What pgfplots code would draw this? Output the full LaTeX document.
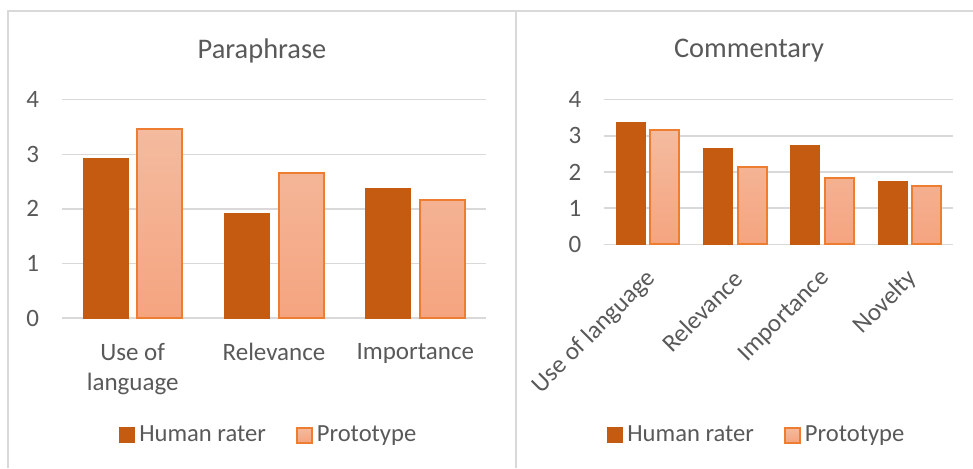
\documentclass[border=0pt]{standalone}
\usepackage{pgfplots}
\pgfplotsset{compat=1.18}
\usepackage{fontspec}
\setmainfont{Carlito}
\definecolor{human}{HTML}{C55A11}
\definecolor{protoedge}{HTML}{ED7D31}
\definecolor{prototop}{HTML}{F4BB9F}
\definecolor{protobot}{HTML}{F5A47F}
\definecolor{txt}{HTML}{595959}
\definecolor{gridc}{HTML}{D9D9D9}
\pgfplotsset{
  panel/.style={
    scale only axis, ybar, ymin=0, ymax=4, ytick={0,1,2,3,4},
    enlargelimits=false,
    ymajorgrids, grid style={gridc, line width=0.75pt},
    axis line style={draw=none}, tick style={draw=none},
    xtick=data,
    font=\fontsize{12.5}{15}\selectfont,
    tick label style={text=txt},
    /pgf/number format/assume math mode=true,
    yticklabel style={xshift=-8pt},
    title style={font=\fontsize{14.2}{16}\selectfont, text=txt, anchor=center},
    legend style={draw=none, fill=none, anchor=center, legend columns=2,
      font=\fontsize{12.3}{15}\selectfont, text=txt,
      /tikz/every even column/.append style={column sep=13pt}},
    legend cell align=left,
  },
  human/.style={fill=human, draw=human, line width=0.5pt,
    legend image code/.code={\draw[fill=human, draw=human] (0pt,-3.75pt) rectangle (7.5pt,3.75pt);}},
  proto/.style={top color=prototop, bottom color=protobot, draw=protoedge, line width=1pt,
    legend image code/.code={\draw[top color=prototop, bottom color=protobot, draw=protoedge, line width=1pt] (0pt,-3.75pt) rectangle (7.5pt,3.75pt);}},
}
\begin{document}
\begin{tikzpicture}
\useasboundingbox (0,0) rectangle (486.5pt,234pt);
\draw[gridc, line width=0.75pt] (4pt,0) -- (4pt,228.5pt) -- (486.5pt,228.5pt);
\draw[gridc, line width=1pt] (257.75pt,0) -- (257.75pt,228.5pt);

\begin{axis}[panel,
  at={(31pt,75pt)}, anchor=south west,
  width=212pt, height=109.15pt,
  xmin=-0.5, xmax=2.5,
  bar width=22.5pt, ybar=4.5pt,
  xticklabels={{Use of\\language},Relevance,Importance},
  xticklabel style={align=center, yshift=-5pt},
  title={Paraphrase}, title style={at={(0.4717,1.168)}},
  legend style={at={(0.49,-0.536)}},
]
\addplot[human] coordinates {(0,2.92) (1,1.91) (2,2.38)};
\addplot[proto] coordinates {(0,3.47) (1,2.65) (2,2.17)};
\legend{Human rater, Prototype}
\end{axis}

\begin{axis}[panel,
  at={(302.15pt,111.85pt)}, anchor=south west,
  width=174.5pt, height=72.3pt,
  xmin=-0.5, xmax=3.5,
  bar width=14.5pt, ybar=2.5pt,
  xticklabels={Use of language,Relevance,Importance,Novelty},
  xticklabel style={rotate=45, anchor=east, yshift=-9pt, xshift=-3pt},
  title={Commentary}, title style={at={(0.4146,1.254)}},
  legend style={at={(0.44,-1.319)}},
]
\addplot[human] coordinates {(0,3.38) (1,2.65) (2,2.73) (3,1.75)};
\addplot[proto] coordinates {(0,3.17) (1,2.14) (2,1.83) (3,1.60)};
\legend{Human rater, Prototype}
\end{axis}
\end{tikzpicture}
\end{document}
